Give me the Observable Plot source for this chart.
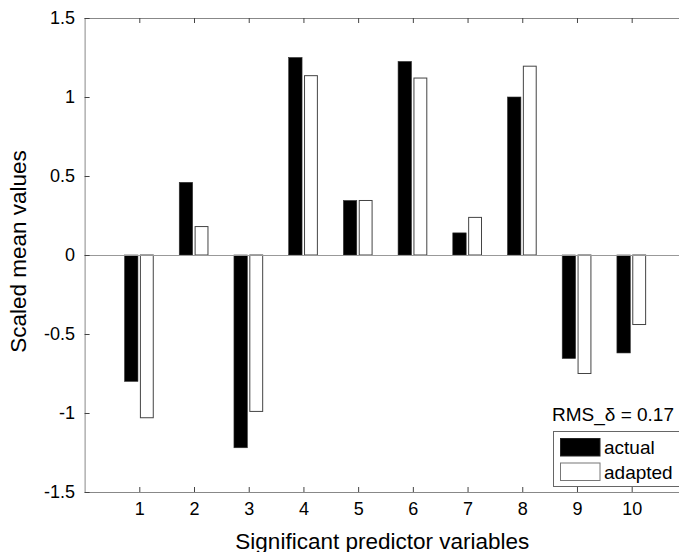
<!DOCTYPE html>
<html><head><meta charset="utf-8">
<script src="https://cdn.jsdelivr.net/npm/d3@7"></script>
<script src="https://cdn.jsdelivr.net/npm/@observablehq/plot@0.6"></script>
<style>html,body{margin:0;padding:0;background:#fff;overflow:hidden}</style>
</head><body><div id="chart"></div>
<script>
const categories = [1, 2, 3, 4, 5, 6, 7, 8, 9, 10];
const actual  = [-0.80, 0.46, -1.22, 1.25, 0.345, 1.225, 0.14, 1.00, -0.655, -0.62];
const adapted = [-1.03, 0.18, -0.99, 1.135, 0.345, 1.12, 0.238, 1.195, -0.75, -0.44];
const xTicks = [1, 2, 3, 4, 5, 6, 7, 8, 9, 10];
const yTicks = [-1.5, -1, -0.5, 0, 0.5, 1, 1.5];
const seriesNames = ["actual", "adapted"];
const statLabel = "RMS_δ = 0.17";
const xLabel = "Significant predictor variables";
const yLabel = "Scaled mean values";

const rows = categories.map((c, i) => ({cat: c, actual: actual[i], adapted: adapted[i]}));

const W = 679, H = 552, mL = 84.6, mT = 18, mB = 60;
const xMax = 10.865;
const pxX = 54.71, pxY = 158;
const font = "'Liberation Sans', Arial, Helvetica, sans-serif";

const plot = Plot.plot({
  width: W, height: H,
  marginLeft: mL, marginRight: 0, marginTop: mT, marginBottom: mB,
  style: {fontFamily: font, background: "#fff", color: "#000"},
  x: {type: "linear", domain: [0, xMax], label: null},
  y: {domain: [-1.5, 1.5], label: null},
  marks: [
    Plot.rect(rows, {x1: d => d.cat - 0.27, x2: d => d.cat - 0.025, y1: 0, y2: "actual", fill: "#000", stroke: "#333", strokeWidth: 0.6}),
    Plot.rect(rows, {x1: d => d.cat + 0.02, x2: d => d.cat + 0.255, y1: 0, y2: "adapted", fill: "#fff", stroke: "#444", strokeWidth: 1}),
    Plot.ruleY([0], {stroke: "#999"}),
    Plot.ruleX([0], {stroke: "#888"}),
    Plot.ruleY([-1.5, 1.5], {stroke: "#888"}),
    Plot.ruleY(yTicks, {y: d => d, x1: 0, x2: 5 / pxX, stroke: "#444"}),
    Plot.ruleX(xTicks, {x: d => d, y1: -1.5, y2: -1.5 + 5 / pxY, stroke: "#444"}),
    Plot.ruleX(xTicks, {x: d => d, y1: 1.5, y2: 1.5 - 5 / pxY, stroke: "#444"}),
    Plot.axisY(yTicks, {tickSize: 0, tickPadding: 10, tickFormat: d => String(d), fontSize: 18, label: null}),
    Plot.axisX(xTicks, {tickSize: 0, tickPadding: 10, tickFormat: d => String(d), fontSize: 18, label: null}),
    Plot.text([xLabel], {frameAnchor: "bottom", textAnchor: "middle", lineAnchor: "bottom", dy: 56, fontSize: 22.5}),
    Plot.text([yLabel], {frameAnchor: "left", textAnchor: "middle", rotate: -90, lineAnchor: "bottom", dx: -59.6, dy: -4, fontSize: 22.5})
  ]
});

const svg = d3.select(plot);
const g = svg.append("g").attr("font-family", font).attr("font-size", 19).attr("text-anchor", "start");
g.append("text").attr("x", 552).attr("y", 420.5).text(statLabel);
g.append("rect").attr("x", 553.5).attr("y", 431.5).attr("width", 140).attr("height", 55)
  .attr("fill", "#fff").attr("stroke", "#666");
const sw = [{fill: "#000", stroke: "#222", y: 438.5}, {fill: "#fff", stroke: "#777", y: 463}];
seriesNames.forEach((name, i) => {
  g.append("rect").attr("x", 560.5).attr("y", sw[i].y).attr("width", 39.5).attr("height", 17.5)
    .attr("fill", sw[i].fill).attr("stroke", sw[i].stroke);
  g.append("text").attr("x", 604).attr("y", sw[i].y + 15.5).text(name);
});

document.getElementById("chart").appendChild(plot);
</script>
</body></html>
